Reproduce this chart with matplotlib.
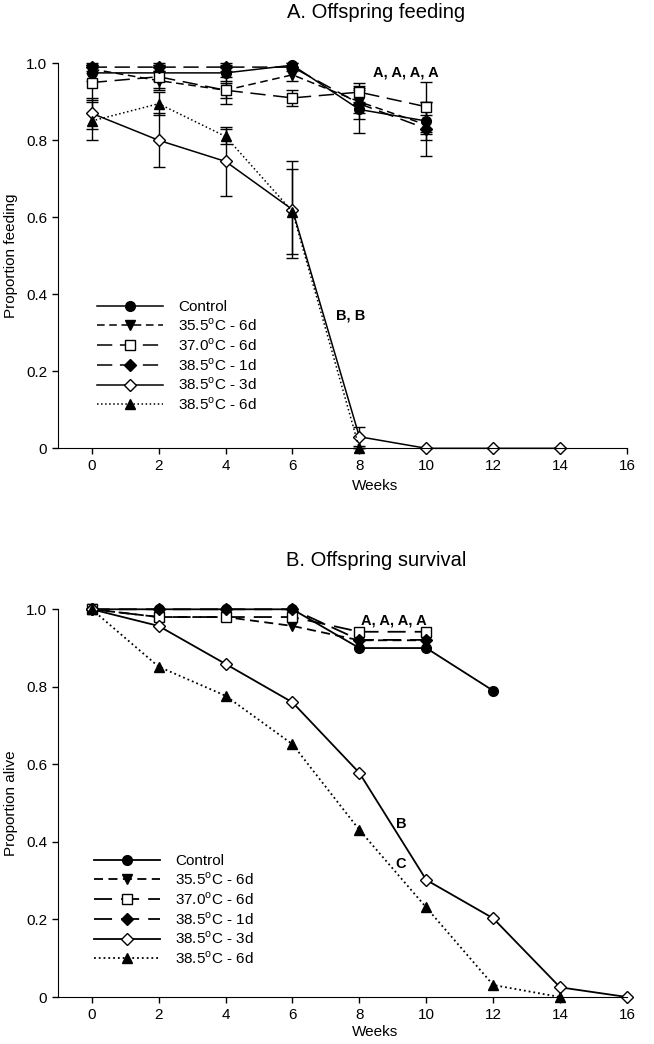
import matplotlib.pyplot as plt

plt.rcParams['font.family'] = ['Liberation Sans', 'DejaVu Sans']
plt.rcParams['mathtext.fontset'] = 'custom'
plt.rcParams['mathtext.rm'] = 'Liberation Sans'

labels = ['Control', r'35.5$^{\rm o}$C - 6d', r'37.0$^{\rm o}$C - 6d',
          r'38.5$^{\rm o}$C - 1d', r'38.5$^{\rm o}$C - 3d', r'38.5$^{\rm o}$C - 6d']

# A. offspring feeding (proportion, with error bars)
feed_weeks = [0, 2, 4, 6, 8, 10]
feed_control = [0.975, 0.975, 0.975, 0.995, 0.88, 0.85]
feed_355 = [0.985, 0.955, 0.93, 0.97, 0.90, 0.84]
feed_370 = [0.95, 0.965, 0.93, 0.91, 0.925, 0.887]
feed_1d = [0.99, 0.99, 0.99, 0.99, 0.895, 0.83]
feed_control_err = [0.02, 0.02, 0.02, 0.005, 0.06, 0.05]
feed_355_err = [0.01, 0.025, 0.02, 0.015, 0.03, 0.025]
feed_370_err = [0.045, 0.03, 0.035, 0.02, 0.025, 0.065]
feed_1d_err = [0.01, 0.01, 0.01, 0.01, 0.04, 0.07]
feed_3d_weeks = [0, 2, 4, 6, 8, 10, 12, 14]
feed_3d = [0.87, 0.80, 0.745, 0.62, 0.03, 0.0, 0.0, 0.0]
feed_3d_err = [0.04, 0.07, 0.09, 0.125, 0.025, 0, 0, 0]
feed_6d_weeks = [0, 2, 4, 6, 8]
feed_6d = [0.85, 0.895, 0.81, 0.615, 0.0]
feed_6d_err = [0.05, 0.03, 0.02, 0.11, 0.0]

# B. offspring survival (proportion alive)
surv_control_weeks = [0, 2, 4, 6, 8, 10, 12]
surv_control = [1.0, 1.0, 1.0, 1.0, 0.90, 0.90, 0.79]
surv_weeks = [0, 2, 4, 6, 8, 10]
surv_355 = [1.0, 0.98, 0.98, 0.957, 0.92, 0.92]
surv_370 = [1.0, 0.98, 0.98, 0.98, 0.942, 0.942]
surv_1d = [1.0, 1.0, 1.0, 1.0, 0.921, 0.921]
surv_3d_weeks = [0, 2, 4, 6, 8, 10, 12, 14, 16]
surv_3d = [1.0, 0.957, 0.859, 0.76, 0.578, 0.302, 0.203, 0.025, 0.0]
surv_6d_weeks = [0, 2, 4, 6, 8, 10, 12, 14]
surv_6d = [1.0, 0.852, 0.777, 0.652, 0.431, 0.231, 0.031, 0.0]

styles = [
    dict(marker='o', mfc='black', ls='-', ms=7),
    dict(marker='v', mfc='black', ls=(0, (5, 3)), ms=7),
    dict(marker='s', mfc='white', ls=(0, (10, 5)), ms=6.5),
    dict(marker='D', mfc='black', ls=(0, (10, 5)), ms=6),
    dict(marker='D', mfc='white', ls='-', ms=6),
    dict(marker='^', mfc='black', ls=':', ms=7),
]

fig = plt.figure(figsize=(6.54, 10.44), dpi=100)
ax1 = fig.add_axes([0.0891, 0.5706, 0.8696, 0.3688])
ax2 = fig.add_axes([0.0891, 0.0450, 0.8696, 0.3714])


def style_axes(ax, ylabel, handles, anchor, label_y):
    ax.set_xlim(-1, 16)
    ax.set_ylim(0, 1.0)
    ax.spines['top'].set_visible(False)
    ax.spines['right'].set_visible(False)
    ax.set_xticks(range(0, 17, 2))
    ax.set_yticks([0, 0.2, 0.4, 0.6, 0.8, 1.0])
    ax.set_yticklabels(['0', '0.2', '0.4', '0.6', '0.8', '1.0'])
    ax.tick_params(direction='out', length=4, width=1, labelsize=11, pad=4)
    ax.set_ylabel(ylabel, fontsize=11, labelpad=6)
    ax.set_xlabel('Weeks', fontsize=11)
    ax.xaxis.set_label_coords(0.557, label_y)
    ax.legend(handles, labels, loc='upper left', bbox_to_anchor=anchor,
              bbox_transform=fig.transFigure, frameon=False, fontsize=11, handlelength=4.3,
              handletextpad=1.0, labelspacing=0.2, borderpad=0, borderaxespad=0, numpoints=1)


# top panel
feed_series = [
    (feed_weeks, feed_control, feed_control_err),
    (feed_weeks, feed_355, feed_355_err),
    (feed_weeks, feed_370, feed_370_err),
    (feed_weeks, feed_1d, feed_1d_err),
    (feed_3d_weeks, feed_3d, feed_3d_err),
    (feed_6d_weeks, feed_6d, feed_6d_err),
]
feed_handles = []
for (x, y, e), st in zip(feed_series, styles):
    c = ax1.errorbar(x, y, yerr=e, color='black', lw=1.1, mec='black', capsize=4.5, elinewidth=1,
                     capthick=1, clip_on=False, **st)
    feed_handles.append(c.lines[0])

# bottom panel
surv_series = [
    (surv_control_weeks, surv_control),
    (surv_weeks, surv_355),
    (surv_weeks, surv_370),
    (surv_weeks, surv_1d),
    (surv_3d_weeks, surv_3d),
    (surv_6d_weeks, surv_6d),
]
surv_handles = []
for (x, y), st in zip(surv_series, styles):
    line, = ax2.plot(x, y, color='black', lw=1.3, mec='black', clip_on=False, **st)
    surv_handles.append(line)

style_axes(ax1, 'Proportion feeding', feed_handles, (0.1488, 0.7126), -0.08)
style_axes(ax2, 'Proportion alive', surv_handles, (0.1442, 0.1820), -0.072)

ax1.text(9.4, 0.975, 'A, A, A, A', ha='center', va='center', fontsize=10.5, fontweight='bold')
ax1.text(7.75, 0.346, 'B, B', ha='center', va='center', fontsize=10.5, fontweight='bold')
ax2.text(9.03, 0.972, 'A, A, A, A', ha='center', va='center', fontsize=10.5, fontweight='bold')
ax2.text(9.25, 0.446, 'B', ha='center', va='center', fontsize=10.5, fontweight='bold')
ax2.text(9.25, 0.342, 'C', ha='center', va='center', fontsize=10.5, fontweight='bold')

fig.text(0.575, 0.9885, 'A. Offspring feeding', ha='center', va='center', fontsize=14.5)
fig.text(0.575, 0.4636, 'B. Offspring survival', ha='center', va='center', fontsize=14.5)

fig.savefig('out.png', dpi=100)
